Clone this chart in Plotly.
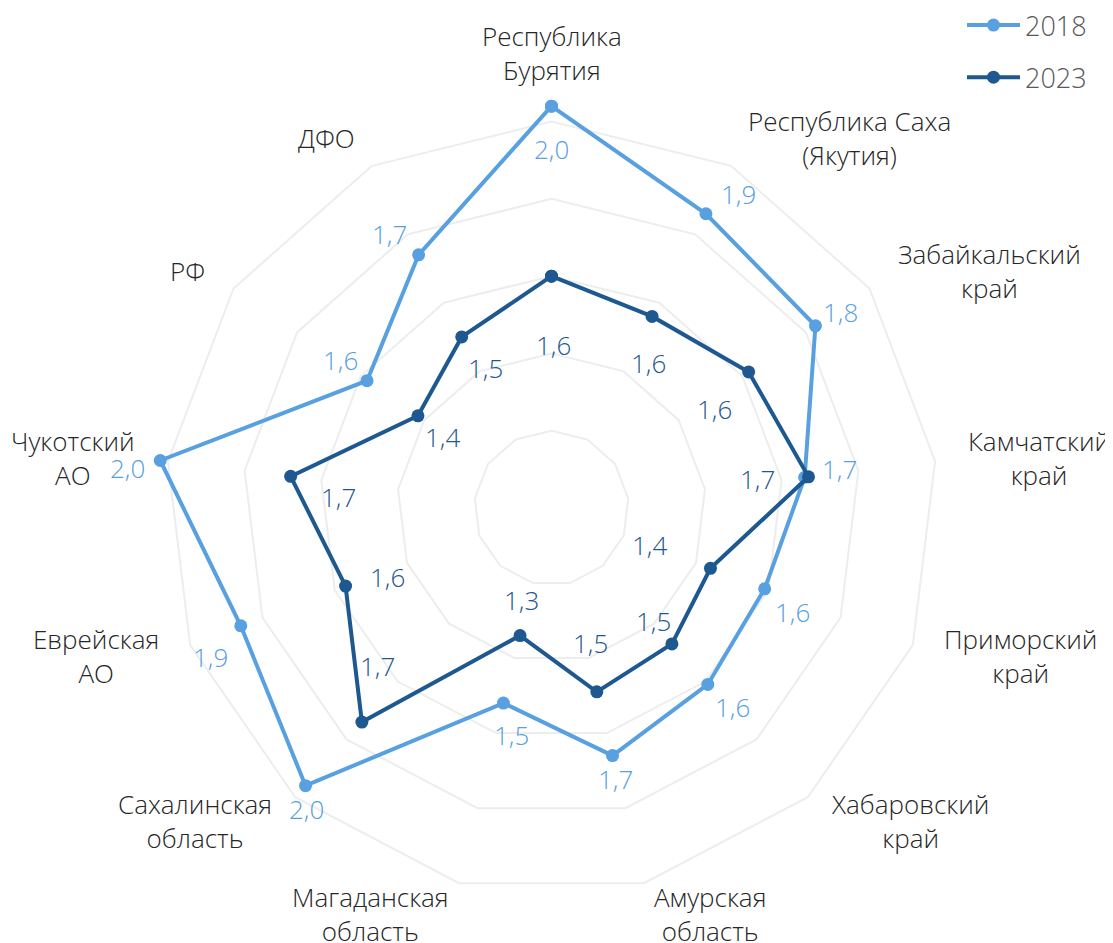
import math
import plotly.graph_objects as go

categories = [
    "Республика<br>Бурятия",
    "Республика Саха<br>(Якутия)",
    "Забайкальский<br>край",
    "Камчатский<br>край",
    "Приморский<br>край",
    "Хабаровский<br>край",
    "Амурская<br>область",
    "Магаданская<br>область",
    "Сахалинская<br>область",
    "Еврейская<br>АО",
    "Чукотский<br>АО",
    "РФ",
    "ДФО",
]
values_2018 = [2.04, 1.86, 1.83, 1.66, 1.59, 1.61, 1.66, 1.52, 1.96, 1.86, 2.02, 1.58, 1.74]
values_2023 = [1.60, 1.56, 1.62, 1.67, 1.44, 1.47, 1.49, 1.34, 1.74, 1.57, 1.68, 1.42, 1.50]
series_names = ["2018", "2023"]

# data-label offsets from their point, in pixels (dx right, dy down)
lab_dx_2018 = [0, 33, 25, 35, 28, 25, 3, 8, 1, -30, -33, -27, -29]
lab_dy_2018 = [43, -20, -14, -8, 23, 23, 23, 32, 23, 31, 8, -21, -21]
lab_dx_2023 = [2, -4, -34, -51, -61, -18, -6, 1, 16, 42, 48, 25, 24]
lab_dy_2023 = [69, 47, 37, 2, -23, -23, -49, -36, -56, -9, 21, 21, 31]

WIN_W, WIN_H = 1113, 943
OFF = 8  # page body margin
W, H = WIN_W - OFF, WIN_H - OFF
CX, CY = 551.5, 508        # window coords of the chart centre
PX_PER_UNIT = 386.4
RMIN, RMAX = 1.0, 2.1
RPX = (RMAX - RMIN) * PX_PER_UNIT


def px(x):
    return (x - OFF) / W


def py(y):
    return 1 - (y - OFF) / H


C2018 = "#58A0DF"
C2023 = "#1D5890"
FONT = "Open Sans"

keys = [f"c{i}" for i in range(len(categories))]
n = len(categories)


def fmt(v):
    return f"{v:.1f}".replace(".", ",")


def to_window(v, i):
    ang = math.radians(90 - i * 360 / n)
    rr = (v - RMIN) * PX_PER_UNIT
    return CX + rr * math.cos(ang), CY - rr * math.sin(ang)


fig = go.Figure()
for name, vals, col in [("2018", values_2018, C2018), ("2023", values_2023, C2023)]:
    fig.add_trace(go.Scatterpolar(
        r=vals + [vals[0]], theta=keys + [keys[0]], name=name,
        mode="lines+markers", legendgroup=name,
        line=dict(color=col, width=4),
        marker=dict(color=col, size=13),
        cliponaxis=False,
    ))

annotations = []
# data labels
for vals, dxs, dys, col in [(values_2018, lab_dx_2018, lab_dy_2018, C2018),
                            (values_2023, lab_dx_2023, lab_dy_2023, C2023)]:
    for i, v in enumerate(vals):
        x, y = to_window(v, i)
        annotations.append(dict(
            x=px(x + dxs[i]), y=py(y + dys[i]), xref="paper", yref="paper",
            text=fmt(v), showarrow=False, xanchor="center", yanchor="middle",
            font=dict(family=FONT, size=26, color=col, weight=300),
        ))

# category labels
for i, lab in enumerate(categories):
    ang = math.radians(90 - i * 360 / n)
    c, s = math.cos(ang), math.sin(ang)
    x = CX + 418 * c
    y = CY - 418 * s
    if abs(c) < 0.1:
        xa = "center"
    elif c > 0:
        xa = "left"
    else:
        xa = "right"
    ya = "bottom" if i == 0 else "middle"
    if lab.startswith("Чукотский"):
        x, xa = 9, "left"
    annotations.append(dict(
        x=px(x), y=py(y), xref="paper", yref="paper", text=lab,
        showarrow=False, xanchor=xa, yanchor=ya, align="center",
        font=dict(family=FONT, size=26, color="#262626", weight=300),
    ))

fig.update_layout(
    width=W, height=H,
    margin=dict(l=0, r=0, t=0, b=0, autoexpand=False),
    paper_bgcolor="white", plot_bgcolor="white",
    polar=dict(
        domain=dict(x=[px(CX - RPX), px(CX + RPX)],
                    y=[py(CY + RPX), py(CY - RPX)]),
        bgcolor="white",
        gridshape="linear",
        radialaxis=dict(range=[RMIN, RMAX], tickvals=[1.2, 1.4, 1.6, 1.8, 2.0],
                        showticklabels=False, ticks="", showline=False,
                        gridcolor="#ededed", gridwidth=1.5),
        angularaxis=dict(type="category", categoryarray=keys, direction="clockwise",
                         rotation=90, showticklabels=False, ticks="",
                         showline=False, showgrid=False),
    ),
    legend=dict(x=px(962), y=py(1), xanchor="left", yanchor="top",
                font=dict(family=FONT, size=27, color="#595959", weight=300),
                itemwidth=53, tracegroupgap=14, bgcolor="rgba(0,0,0,0)"),
    annotations=annotations,
    showlegend=True,
)

fig.write_html("out.html")
